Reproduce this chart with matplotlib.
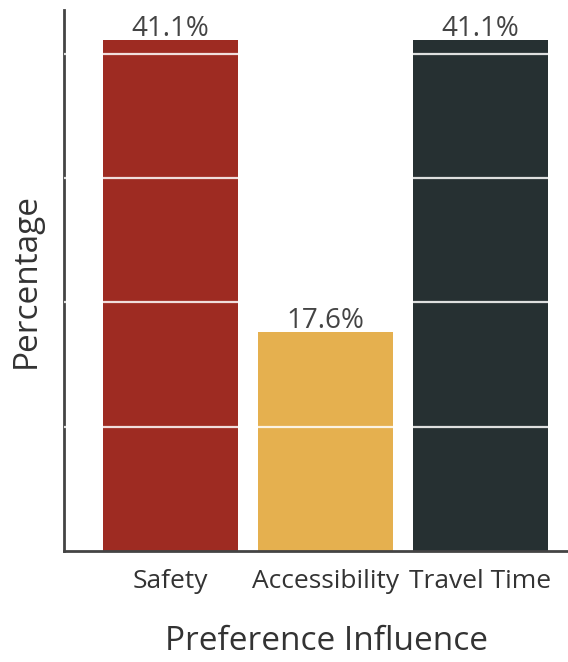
import matplotlib.pyplot as plt

categories = ['Safety', 'Accessibility', 'Travel Time']
shares = [41.1, 17.6, 41.1]
bar_colors = ['#9e2b22', '#e5b04f', '#263032']

plt.rcParams['font.family'] = ['Open Sans', 'DejaVu Sans']

fig = plt.figure(figsize=(5.68, 6.62), dpi=100)
W, H = 568, 662
# axes box in pixel terms: left 64, bottom 551, top 10, right 568
ax = fig.add_axes([64 / W, (H - 551) / H, (568 - 64) / W, (551 - 10) / H])

x = range(len(categories))
bars = ax.bar(x, shares, width=0.87, color=bar_colors, zorder=2)

for rect, val in zip(bars, shares):
    ax.text(rect.get_x() + rect.get_width() / 2, val - 0.25, f'{val}%',
            ha='center', va='bottom', fontsize=20, color='#444444')

ax.set_xlim(-0.687, 2.565)
ax.set_ylim(0, 43.5)
ax.set_yticks([10, 20, 30, 40])
ax.set_yticklabels([])
ax.tick_params(axis='y', length=0)
ax.tick_params(axis='x', length=0, labelsize=19, labelcolor='#333333', pad=13)
ax.set_xticks(list(x))
ax.set_xticklabels(categories)

ax.grid(axis='y', color='white', linewidth=1.6, alpha=0.85, zorder=3)
ax.set_axisbelow(False)

for side in ['top', 'right']:
    ax.spines[side].set_visible(False)
for side in ['left', 'bottom']:
    ax.spines[side].set_color('#444444')
    ax.spines[side].set_linewidth(2)

ax.set_ylabel('Percentage', fontsize=24, color='#333333', labelpad=12)
ax.set_xlabel('Preference Influence', fontsize=24, color='#333333', labelpad=22)
ax.xaxis.label.set_x(0.52)

fig.savefig('out.png', dpi=100)
